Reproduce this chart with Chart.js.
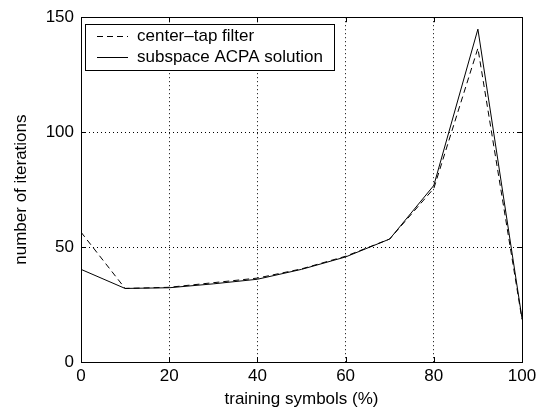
<!DOCTYPE html>
<html>
<head>
<meta charset="utf-8">
<script src="https://cdn.jsdelivr.net/npm/chart.js@4/dist/chart.umd.min.js"></script>
<style>
  html, body { margin: 0; padding: 0; background: #fff; }
  #wrap { width: 546px; height: 413px; }
</style>
</head>
<body>
<div id="wrap"><canvas id="chart" width="546" height="413"></canvas></div>
<script>
// training symbols (%)
const trainingPct = [0, 10, 20, 30, 40, 50, 60, 70, 80, 90, 100];
// number of iterations
const centerTap = [56.5, 32, 32.5, 34.5, 36.5, 40.5, 46, 53.5, 75.5, 136.5, 18.5];
const subspaceAcpa = [40.3, 32, 32.3, 34, 36, 40.3, 45.7, 53.5, 76.8, 144.8, 19];
const seriesNames = ['center\u2013tap filter', 'subspace ACPA solution'];
const xTicks = [0, 20, 40, 60, 80, 100];
const yTicks = [0, 50, 100, 150];

const FONT = '"Liberation Sans", Arial, Helvetica, sans-serif';

function toPoints(ys) {
  return trainingPct.map((x, i) => ({ x: x, y: ys[i] }));
}

// box round the plot, with inward tick marks (matlab style)
const frame = {
  id: 'frame',
  afterDatasetsDraw(chart) {
    const { ctx, chartArea: a, scales } = chart;
    ctx.save();
    ctx.strokeStyle = '#000';
    ctx.lineWidth = 1;
    ctx.setLineDash([]);
    ctx.strokeRect(Math.round(a.left) + 0.5, Math.round(a.top) + 0.5,
      Math.round(a.right - a.left), Math.round(a.bottom - a.top));
    const tl = 5;
    ctx.beginPath();
    xTicks.forEach(v => {
      const px = Math.round(scales.x.getPixelForValue(v)) + 0.5;
      ctx.moveTo(px, a.bottom); ctx.lineTo(px, a.bottom - tl);
      ctx.moveTo(px, a.top); ctx.lineTo(px, a.top + tl);
    });
    yTicks.forEach(v => {
      const py = Math.round(scales.y.getPixelForValue(v)) + 0.5;
      ctx.moveTo(a.left, py); ctx.lineTo(a.left + tl, py);
      ctx.moveTo(a.right, py); ctx.lineTo(a.right - tl, py);
    });
    ctx.stroke();
    ctx.restore();
  }
};

// legend box in the upper left corner of the plot
const boxLegend = {
  id: 'boxLegend',
  afterDraw(chart) {
    const { ctx, chartArea: a } = chart;
    ctx.save();
    ctx.font = '17px ' + FONT;
    const x0 = a.left + 4, y0 = a.top + 7;
    const textX = x0 + 52;
    const rowH = 21;
    let w = 0;
    chart.data.datasets.forEach(d => { w = Math.max(w, ctx.measureText(d.label).width); });
    const boxW = (textX - x0) + w + 11;
    const boxH = 46;
    ctx.fillStyle = '#fff';
    ctx.fillRect(x0, y0, boxW, boxH);
    ctx.strokeStyle = '#000';
    ctx.lineWidth = 1;
    ctx.strokeRect(Math.round(x0) + 0.5, Math.round(y0) + 0.5, Math.round(boxW), boxH);
    chart.data.datasets.forEach((d, i) => {
      const cy = y0 + 12 + i * rowH;
      ctx.beginPath();
      ctx.setLineDash(d.borderDash || []);
      ctx.lineWidth = d.borderWidth;
      ctx.strokeStyle = d.borderColor;
      ctx.moveTo(x0 + 12, Math.round(cy) + 0.5);
      ctx.lineTo(x0 + 43, Math.round(cy) + 0.5);
      ctx.stroke();
      ctx.setLineDash([]);
      ctx.fillStyle = '#000';
      ctx.textBaseline = 'middle';
      ctx.textAlign = 'left';
      ctx.fillText(d.label, textX, cy);
    });
    ctx.restore();
  }
};

const interiorGrid = (ticks) => (c) => {
  const v = c.tick ? c.tick.value : null;
  return (v === ticks[0] || v === ticks[ticks.length - 1]) ? 'rgba(0,0,0,0)' : '#000';
};

new Chart(document.getElementById('chart').getContext('2d'), {
  type: 'line',
  data: {
    datasets: [{
      label: seriesNames[0],
      data: toPoints(centerTap),
      borderColor: '#000',
      borderWidth: 1,
      borderDash: [6, 4],
      pointRadius: 0,
      tension: 0,
      fill: false
    }, {
      label: seriesNames[1],
      data: toPoints(subspaceAcpa),
      borderColor: '#000',
      borderWidth: 1,
      pointRadius: 0,
      tension: 0,
      fill: false
    }]
  },
  options: {
    responsive: false,
    animation: false,
    layout: { padding: { top: 11, right: 24, bottom: 0, left: 0 } },
    plugins: { legend: { display: false }, tooltip: { enabled: false } },
    scales: {
      x: {
        type: 'linear',
        min: 0, max: 100,
        afterBuildTicks: (s) => { s.ticks = xTicks.map(v => ({ value: v })); },
        afterFit: (s) => { s.height = 51; },
        ticks: { color: '#000', padding: 4, maxRotation: 0, font: { family: FONT, size: 17 } },
        grid: { color: interiorGrid(xTicks), lineWidth: 1, drawTicks: false },
        border: { display: false, dash: [1, 3] },
        title: {
          display: true, text: 'training symbols (%)', color: '#000',
          font: { family: FONT, size: 17 }, padding: { top: 0, bottom: 3 }
        }
      },
      y: {
        min: 0, max: 150,
        afterBuildTicks: (s) => { s.ticks = yTicks.map(v => ({ value: v })); },
        afterFit: (s) => { s.width = 81; },
        ticks: { color: '#000', padding: 7, font: { family: FONT, size: 17 } },
        grid: { color: interiorGrid(yTicks), lineWidth: 1, drawTicks: false },
        border: { display: false, dash: [1, 3] },
        title: {
          display: true, text: 'number of iterations', color: '#000',
          font: { family: FONT, size: 17 }, padding: { top: 11, bottom: 0 }
        }
      }
    }
  },
  plugins: [frame, boxLegend]
});
</script>
</body>
</html>
